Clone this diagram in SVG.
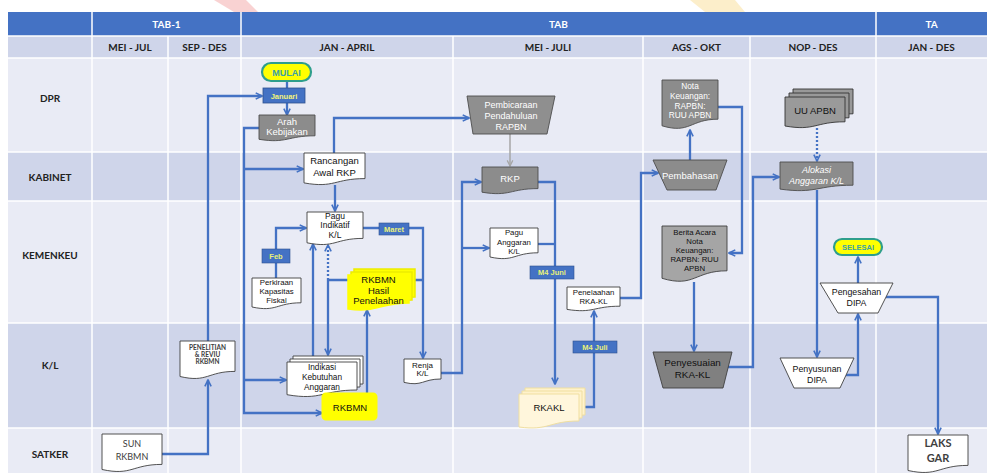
<svg xmlns="http://www.w3.org/2000/svg" width="987" height="473" viewBox="0 0 987 473">
<defs>
<style>
.h1{font-family:Lato,"Liberation Sans",sans-serif;font-weight:bold;font-size:10px;fill:#fff;text-anchor:middle}
.h2{font-family:Lato,"Liberation Sans",sans-serif;font-weight:bold;font-size:10px;fill:#222;text-anchor:middle}
.t{font-family:"Liberation Sans",Arial,sans-serif;text-anchor:middle;fill:#111}
.tw{font-family:"Liberation Sans",Arial,sans-serif;text-anchor:middle;fill:#fff}
.c{fill:none;stroke:#4472C4;stroke-width:2.3}
.ca{marker-end:url(#ah)}
.dot{stroke-dasharray:2 2}
.wd{fill:#fff;stroke:#404040;stroke-width:0.9}
.gd{fill:#8C8C8C;stroke:#4D4D4D;stroke-width:0.9}
.lb{fill:#4472C4;stroke:#2F528F;stroke-width:0.6}
.lt{font-family:"Liberation Sans",Arial,sans-serif;font-weight:bold;font-size:7.5px;fill:#E8F07A;text-anchor:middle}
.pill{fill:#FFFF00;stroke:#2E9E8C;stroke-width:2.2}
</style>
<marker id="ah" viewBox="0 0 10 10" refX="8.5" refY="5" markerWidth="9" markerHeight="9" markerUnits="userSpaceOnUse" orient="auto">
<path d="M1.5,1.5 L8.5,5 L1.5,8.5" fill="none" stroke="#4472C4" stroke-width="1.8"/>
</marker>
<marker id="ahg" viewBox="0 0 10 10" refX="8.5" refY="5" markerWidth="8" markerHeight="8" markerUnits="userSpaceOnUse" orient="auto">
<path d="M1.5,1.5 L8.5,5 L1.5,8.5" fill="none" stroke="#A6A6A6" stroke-width="1.6"/>
</marker>
</defs>

<g id="background">
<rect x="0" y="0" width="987" height="473" fill="#fff"/>
<polygon points="214,0 246,0 258,12 234,12" fill="#F3A5A5" opacity="0.5"/>
<polygon points="690,0 735,0 745,12 705,12" fill="#F9D98A" opacity="0.45"/>
<rect x="8" y="12" width="979" height="24" fill="#4472C4"/>
<rect x="8" y="36" width="979" height="22" fill="#CFD5EA"/>
<rect x="8" y="58" width="979" height="94" fill="#E9EBF5"/>
<rect x="8" y="152" width="979" height="49" fill="#CFD5EA"/>
<rect x="8" y="201" width="979" height="122" fill="#E9EBF5"/>
<rect x="8" y="323" width="979" height="105" fill="#CFD5EA"/>
<rect x="8" y="428" width="979" height="45" fill="#E9EBF5"/>
<g stroke="#fff" stroke-width="1.5">
<line x1="8" y1="36" x2="987" y2="36"/>
<line x1="8" y1="58" x2="987" y2="58"/>
<line x1="8" y1="152" x2="987" y2="152"/>
<line x1="8" y1="201" x2="987" y2="201"/>
<line x1="8" y1="323" x2="987" y2="323"/>
<line x1="8" y1="428" x2="987" y2="428"/>
<line x1="92" y1="12" x2="92" y2="473"/>
<line x1="241" y1="12" x2="241" y2="473"/>
<line x1="876" y1="12" x2="876" y2="473"/>
<line x1="168" y1="36" x2="168" y2="473"/>
<line x1="453" y1="36" x2="453" y2="473"/>
<line x1="643" y1="36" x2="643" y2="473"/>
<line x1="750" y1="36" x2="750" y2="473"/>
</g>
<text class="h1" x="166.5" y="28">TAB-1</text>
<text class="h1" x="558.5" y="28">TAB</text>
<text class="h1" x="931.5" y="28">TA</text>
<text class="h2" x="130" y="51">MEI - JUL</text>
<text class="h2" x="204.5" y="51">SEP - DES</text>
<text class="h2" x="347" y="51">JAN - APRIL</text>
<text class="h2" x="548" y="51">MEI - JULI</text>
<text class="h2" x="696.5" y="51">AGS - OKT</text>
<text class="h2" x="813" y="51">NOP - DES</text>
<text class="h2" x="931.5" y="51">JAN - DES</text>
<text class="h2" x="50" y="101.5">DPR</text>
<text class="h2" x="50" y="180.5">KABINET</text>
<text class="h2" x="50" y="258.5">KEMENKEU</text>
<text class="h2" x="50" y="368.5">K/L</text>
<text class="h2" x="50" y="457.5">SATKER</text>
</g>

<g id="connectors">
<path class="c ca" d="M162,454 H208 V380"/>
<path class="c ca" d="M208,341 V96 H262"/>
<path class="c" d="M287,81 V88"/>
<path class="c ca" d="M287,103 V115"/>
<path class="c ca" d="M259,128 H244 V413 H322"/>
<path class="c ca" d="M244,169 H303"/>
<path class="c ca" d="M244,380 H286"/>
<path class="c ca" d="M334,153 V118 H469"/>
<path class="c ca" d="M335,185 V211"/>
<path class="c ca" d="M276,278 V228 H306"/>
<path class="c ca" d="M313,356 V244"/>
<path class="c ca dot" d="M328,280 V245"/>
<path class="c ca" d="M328,280 V355"/>
<path class="c" d="M328,280 H423"/>
<path class="c ca" d="M367,393 V310"/>
<path class="c ca" d="M363,228 H423 V358"/>
<path class="c ca" d="M441,373 H462 V182 H481"/>
<path class="c ca" d="M462,248 H489"/>
<path fill="none" stroke="#A6A6A6" stroke-width="1.5" marker-end="url(#ahg)" d="M510,134 V166"/>
<path class="c ca" d="M538,182 H555 V384"/>
<path class="c" d="M538,244 H555"/>
<path class="c ca" d="M580,407 H594 V311"/>
<path class="c ca" d="M620,298 H641 V173 H658"/>
<path class="c ca" d="M690,160 V130"/>
<path class="c ca" d="M718,107 H742 V253 H729"/>
<path class="c ca" d="M694,282 V351"/>
<path class="c ca" d="M728,367 H753 V177 H779"/>
<path class="c ca dot" d="M817,128 V161"/>
<path class="c ca" d="M817,190 V357"/>
<path class="c ca" d="M846,375 H858 V314"/>
<path class="c ca" d="M858,283 V257"/>
<path class="c ca" d="M886,297 H938 V434"/>
<rect class="lb" x="262" y="249" width="28" height="14"/>
<text class="lt" x="276" y="258.8">Feb</text>
<rect class="lb" x="379" y="223" width="30" height="12"/>
<text class="lt" x="394" y="231.8">Maret</text>
<rect class="lb" x="530" y="266" width="44" height="13"/>
<text class="lt" x="552" y="275.3">M4 Juni</text>
<rect class="lb" x="573" y="341" width="44" height="12"/>
<text class="lt" x="595" y="349.8">M4 Juli</text>
</g>

<g id="mulai">
<rect class="pill" x="262" y="63" width="49" height="18" rx="9"/>
<text x="286.5" y="75.5" font-family="'Liberation Sans',Arial,sans-serif" font-size="9" font-weight="bold" fill="#3A9FA8" text-anchor="middle">MULAI</text>
</g>
<g id="januari">
<rect x="263" y="88" width="42" height="15" fill="#4472C4" stroke="#2F528F" stroke-width="0.8"/>
<text x="284" y="98.5" font-family="'Liberation Sans',Arial,sans-serif" font-size="7.5" font-weight="bold" fill="#F2F27A" text-anchor="middle">Januari</text>
</g>
<g id="arah-kebijakan">
<path class="gd" d="M259,115 H315 V135.8 C287,135.8 287,143.8 259,139.3 Z"/>
<text class="tw" font-size="9.5"><tspan x="287" y="124.5">Arah</tspan><tspan x="287" y="134.5">Kebijakan</tspan></text>
</g>
<g id="rancangan-awal-rkp">
<path class="wd" d="M304,153 H365 V178.6 C334.5,178.6 334.5,188.4 304,182.9 Z"/>
<text class="t" font-size="9.5"><tspan x="334.5" y="163.5">Rancangan</tspan><tspan x="334.5" y="175.5">Awal RKP</tspan></text>
</g>
<g id="pagu-indikatif">
<path class="wd" d="M307,212 H363 V238.4 C335,238.4 335,248.5 307,242.8 Z"/>
<text class="t" font-size="8.5"><tspan x="335" y="218.5">Pagu</tspan><tspan x="335" y="228">Indikatif</tspan><tspan x="335" y="237.5">K/L</tspan></text>
</g>
<g id="perkiraan-kapasitas-fiskal">
<path class="wd" d="M252,278 H301 V302.8 C276.5,302.8 276.5,312.3 252,307 Z"/>
<text class="t" font-size="7.8"><tspan x="276.5" y="285">Perkiraan</tspan><tspan x="276.5" y="294">Kapasitas</tspan><tspan x="276.5" y="302.5">Fiskal</tspan></text>
</g>
<g id="rkbmn-hasil-penelaahan">
<path d="M354,269 H415 V297 C384.5,297 384.5,307 354,303 Z" fill="#FFFF00" stroke="#EDED00" stroke-width="1.5"/>
<path d="M351,272 H412 V300 C381.5,300 381.5,310 351,306 Z" fill="#FFFF00" stroke="#EDED00" stroke-width="1.5"/>
<path d="M348,275 H409 V303 C378.5,303 378.5,313 348,309 Z" fill="#FFFF00" stroke="#FFFF00" stroke-width="1.5"/>
<text class="t" font-size="9.5"><tspan x="378.5" y="283">RKBMN</tspan><tspan x="378.5" y="293.5">Hasil</tspan><tspan x="378.5" y="304">Penelaahan</tspan></text>
</g>
<g id="indikasi-kebutuhan-anggaran">
<path class="wd" d="M293,356 H363 V384 C328,384 328,394.7 293,388.7 Z"/>
<path class="wd" d="M290,359 H360 V387 C325,387 325,397.7 290,391.7 Z"/>
<path class="wd" d="M287,362 H357 V390 C322,390 322,400.7 287,394.7 Z"/>
<text class="t" font-size="8.3"><tspan x="322" y="370">Indikasi</tspan><tspan x="322" y="380">Kebutuhan</tspan><tspan x="322" y="390">Anggaran</tspan></text>
</g>
<g id="rkbmn">
<rect x="323" y="394" width="53" height="25" rx="3" fill="#FFFF00" stroke="#FFFF00" stroke-width="3" stroke-linejoin="round"/>
<text class="t" font-size="9.5" x="350" y="410.5">RKBMN</text>
</g>
<g id="renja-kl">
<path class="wd" d="M404,359 H441 V379 C422.5,379 422.5,386.7 404,382.4 Z"/>
<text class="t" font-size="8"><tspan x="422.5" y="367.5">Renja</tspan><tspan x="422.5" y="376">K/L</tspan></text>
</g>
<g id="pembicaraan-pendahuluan">
<path d="M467,96 L555,96 L547,134 L473,134 Z" fill="#8F8F8F" stroke="#4D4D4D" stroke-width="0.9"/>
<text class="tw" font-size="9"><tspan x="511" y="108">Pembicaraan</tspan><tspan x="511" y="119">Pendahuluan</tspan><tspan x="511" y="130">RAPBN</tspan></text>
</g>
<g id="rkp">
<path class="gd" d="M482,167 H538 V188.6 C510,188.6 510,196.9 482,192.2 Z"/>
<text class="tw" font-size="9.5" x="510" y="181.5">RKP</text>
</g>
<g id="pagu-anggaran">
<path class="wd" d="M490,228 H538 V252.8 C514,252.8 514,262.3 490,257 Z"/>
<text class="t" font-size="7.8"><tspan x="514" y="235">Pagu</tspan><tspan x="514" y="244.5">Anggaran</tspan><tspan x="514" y="254">K/L</tspan></text>
</g>
<g id="penelaahan-rka-kl">
<path class="wd" d="M567,287 H620 V306.2 C593.5,306.2 593.5,313.6 567,309.4 Z"/>
<text class="t" font-size="7.8"><tspan x="593.5" y="295">Penelaahan</tspan><tspan x="593.5" y="304">RKA-KL</tspan></text>
</g>
<g id="rkakl">
<path d="M525,388 H585 V415 C555,415 555,425 525,421 Z" fill="#FFF2CC" stroke="#F0DFA0" stroke-width="1"/>
<path d="M522,391 H582 V418 C552,418 552,428 522,424 Z" fill="#FFF2CC" stroke="#F0DFA0" stroke-width="1"/>
<path d="M519,394 H579 V421 C549,421 549,431 519,427 Z" fill="#FFF6DC" stroke="#F0DFA0" stroke-width="1"/>
<text class="t" font-size="9.5" x="549" y="411">RKAKL</text>
</g>
<g id="pembahasan">
<path d="M653,160 L727,160 L716,190 L667,190 Z" class="gd"/>
<text class="tw" font-size="9.5" x="690" y="178.5">Pembahasan</text>
</g>
<g id="nota-keuangan">
<path class="gd" d="M662,80 H718 V119.2 C690,119.2 690,134.2 662,125.8 Z"/>
<text class="tw" font-size="8.3"><tspan x="690" y="89">Nota</tspan><tspan x="690" y="99">Keuangan:</tspan><tspan x="690" y="108.5">RAPBN:</tspan><tspan x="690" y="118">RUU APBN</tspan></text>
</g>
<g id="berita-acara">
<path d="M662,226 H727 V270.8 C694.5,270.8 694.5,288 662,278.3 Z" fill="#A5A5A5" stroke="#404040" stroke-width="0.9"/>
<text class="t" font-size="7.8"><tspan x="694.5" y="235">Berita Acara</tspan><tspan x="694.5" y="244">Nota</tspan><tspan x="694.5" y="253">Keuangan:</tspan><tspan x="694.5" y="262">RAPBN: RUU</tspan><tspan x="694.5" y="271">APBN</tspan></text>
</g>
<g id="penyesuaian-rka-kl">
<path d="M653,352 L732,352 L723,388 L663,388 Z" fill="#808080" stroke="#404040" stroke-width="0.9"/>
<text class="t" font-size="9.8"><tspan x="692.5" y="366">Penyesuaian</tspan><tspan x="692.5" y="377.5">RKA-KL</tspan></text>
</g>
<g id="uu-apbn">
<path d="M793,89 H853 V113.8 C823,113.8 823,123.3 793,118 Z" fill="#999" stroke="#333" stroke-width="0.9"/>
<path d="M789,93 H849 V117.8 C819,117.8 819,127.3 789,122 Z" fill="#999" stroke="#333" stroke-width="0.9"/>
<path d="M785,97 H845 V121.8 C815,121.8 815,131.3 785,126 Z" fill="#9A9A9A" stroke="#333" stroke-width="0.9"/>
<text class="t" font-size="9.5" x="815" y="114">UU APBN</text>
</g>
<g id="alokasi-anggaran">
<path class="gd" d="M780,162 H853 V185.2 C816.5,185.2 816.5,194.1 780,189.1 Z"/>
<text class="tw" font-size="9" font-style="italic"><tspan x="816.5" y="173">Alokasi</tspan><tspan x="816.5" y="184">Anggaran K/L</tspan></text>
</g>
<g id="penyusunan-dipa">
<path d="M780,358 L854,358 L840,388 L794,388 Z" fill="#fff" stroke="#404040" stroke-width="0.9"/>
<text class="t" font-size="8.8"><tspan x="817" y="372">Penyusunan</tspan><tspan x="817" y="383">DIPA</tspan></text>
</g>
<g id="pengesahan-dipa">
<path d="M820,283 L893,283 L878,313 L838,313 Z" fill="#fff" stroke="#404040" stroke-width="0.9"/>
<text class="t" font-size="8.8"><tspan x="856.5" y="295">Pengesahan</tspan><tspan x="856.5" y="306">DIPA</tspan></text>
</g>
<g id="selesai">
<rect class="pill" x="834" y="239" width="48" height="16" rx="8"/>
<text x="858" y="250" font-family="'Liberation Sans',Arial,sans-serif" font-size="7.5" font-weight="bold" fill="#3A9FA8" text-anchor="middle">SELESAI</text>
</g>
<g id="laks-gar">
<path class="wd" d="M908,435 H968 V465.4 C938,465.4 938,477 908,470.5 Z"/>
<text font-family="Lato,'Liberation Sans',sans-serif" font-size="11" font-weight="bold" fill="#404040" text-anchor="middle"><tspan x="938" y="447">LAKS</tspan><tspan x="938" y="461.5">GAR</tspan></text>
</g>
<g id="sun-rkbmn">
<path class="wd" d="M102,434 H162 V464.4 C132,464.4 132,476 102,469.5 Z"/>
<text font-family="Lato,'Liberation Sans',sans-serif" font-size="9" fill="#404040" text-anchor="middle"><tspan x="132" y="446.5">SUN</tspan><tspan x="132" y="460">RKBMN</tspan></text>
</g>
<g id="penelitian-reviu-rkbmn">
<path class="wd" d="M180,341 H235 V371.4 C207.5,371.4 207.5,383 180,376.5 Z"/>
<text font-family="Lato,'Liberation Sans',sans-serif" font-size="6.5" font-weight="bold" fill="#404040" text-anchor="middle"><tspan x="207.5" y="349.5">PENELITIAN</tspan><tspan x="207.5" y="356.5">&amp; REVIU</tspan><tspan x="207.5" y="363.5">RKBMN</tspan></text>
</g>
</svg>
